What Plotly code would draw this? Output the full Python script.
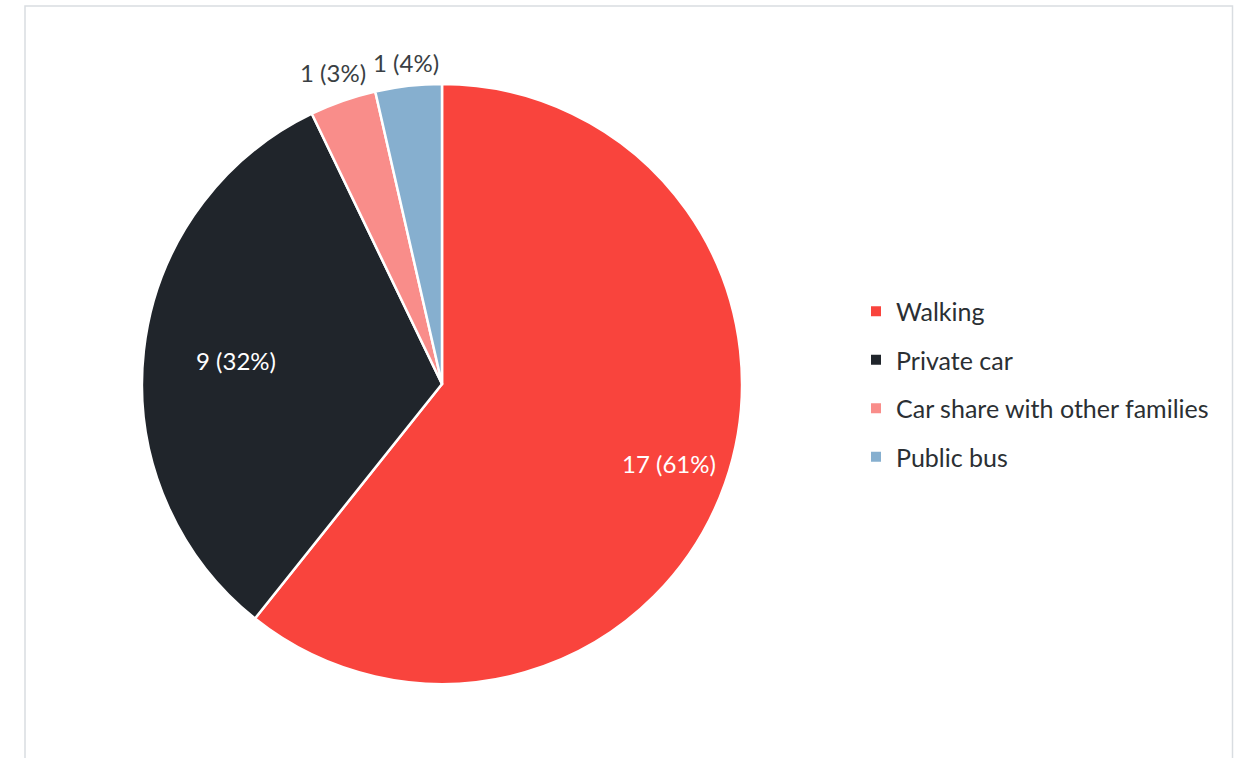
import math
import plotly.graph_objects as go

# Travel modes and counts
modes = ["Walking", "Private car", "Car share with other families", "Public bus"]
counts = [17, 9, 1, 1]
pct_labels = ["61%", "32%", "3%", "4%"]
colors = ["#F9443D", "#20252B", "#F98D8A", "#86AFCF"]

FONT = "Lato"
W, H = 1245, 758
cx, cy, r = 442, 384, 300

# Radial placement of each data label (fraction of radius) and its colour
label_radius = [0.80, 0.69, 1.10, 1.08]
label_colors = ["white", "white", "#3A3F44", "#3A3F44"]

fig = go.Figure()

fig.add_trace(go.Pie(
    labels=modes,
    values=counts,
    textinfo="none",
    sort=False,
    direction="clockwise",
    rotation=0,
    marker=dict(colors=colors, line=dict(color="white", width=2.5)),
    showlegend=False,
    hoverinfo="label+value",
    domain=dict(x=[(cx - r) / W, (cx + r) / W],
                y=[1 - (cy + r) / H, 1 - (cy - r) / H]),
))

# Data labels placed along each slice's mid-angle (clockwise from 12 o'clock)
total = sum(counts)
annotations = []
cum = 0
for c, p, rho, tc in zip(counts, pct_labels, label_radius, label_colors):
    mid = 2 * math.pi * (cum + c / 2) / total
    cum += c
    px = cx + rho * r * math.sin(mid)
    py = cy - rho * r * math.cos(mid)
    annotations.append(dict(
        x=px / W, y=1 - py / H, xref="paper", yref="paper",
        text=f"{c} ({p})", showarrow=False,
        xanchor="center", yanchor="middle",
        font=dict(family=FONT, size=24, color=tc),
    ))

# Legend entries as square markers, one group each for even spacing
for name, col in zip(modes, colors):
    fig.add_trace(go.Scatter(
        x=[None], y=[None], mode="markers", name=name,
        legendgroup=name,
        marker=dict(symbol="square", size=10, color=col),
        hoverinfo="skip",
    ))

fig.update_layout(
    width=W, height=H,
    margin=dict(l=0, r=0, t=0, b=0),
    paper_bgcolor="white",
    plot_bgcolor="white",
    xaxis=dict(visible=False),
    yaxis=dict(visible=False),
    annotations=annotations,
    legend=dict(
        x=856 / W, xanchor="left",
        y=1 - cy / H, yanchor="middle",
        font=dict(family=FONT, size=25, color="#2B2F33"),
        tracegroupgap=13,
        bgcolor="rgba(0,0,0,0)",
    ),
    shapes=[dict(
        type="rect", xref="paper", yref="paper",
        x0=25 / W, x1=1232.5 / W, y0=-0.05, y1=1 - 6 / H,
        line=dict(color="#D9DDE1", width=1.5),
        fillcolor="rgba(0,0,0,0)", layer="below",
    )],
)

fig.write_html("out.html")
